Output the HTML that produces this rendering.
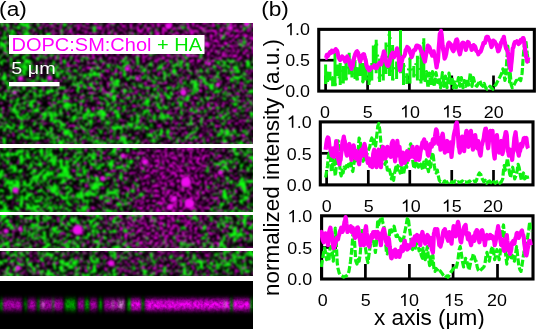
<!DOCTYPE html>
<html><head><meta charset="utf-8">
<style>
html,body{margin:0;padding:0;background:#fff;}
body{width:536px;height:329px;position:relative;overflow:hidden;font-family:"Liberation Sans",sans-serif;}
.abs{position:absolute;}
</style></head><body>
<svg class="abs" style="left:0;top:0;will-change:transform" width="536" height="329" viewBox="0 0 536 329" font-family="Liberation Sans, sans-serif">
  <!-- microscopy placeholder -->
  <defs>
<filter id="mf" filterUnits="userSpaceOnUse" x="-6" y="17" width="265" height="265" color-interpolation-filters="sRGB">
  <feGaussianBlur in="SourceGraphic" stdDeviation="3" result="D"/>
  <feTurbulence type="fractalNoise" baseFrequency="0.3" numOctaves="2" seed="4" result="N1"/>
  <feColorMatrix in="N1" type="matrix" values="0 0 0 0 0  1 0 0 0 0  0 0 0 0 0  0 0 0 0 1" result="N1g"/>
  <feTurbulence type="fractalNoise" baseFrequency="0.1" numOctaves="2" seed="21" result="N3"/>
  <feColorMatrix in="N3" type="matrix" values="0 0 0 0 0  1 0 0 0 0  0 0 0 0 0  0 0 0 0 1" result="N3g"/>
  <feComposite in="N1g" in2="N3g" operator="arithmetic" k1="0" k2="0.7" k3="0.45" k4="-0.075" result="N13"/>
  <feComposite in="N13" in2="D" operator="arithmetic" k1="0" k2="1" k3="0.5" k4="-0.25" result="S1"/>
  <feColorMatrix in="S1" type="matrix" values="0 0 0 0 0.06  0 0 0 0 1.0  0 0 0 0 0.06  0 7 0 0 -3.0" result="G"/>
  <feTurbulence type="fractalNoise" baseFrequency="0.4" numOctaves="2" seed="11" result="N2"/>
  <feColorMatrix in="N2" type="matrix" values="1 0 0 0 0  0 0 0 0 0  0 0 0 0 0  0 0 0 0 1" result="N2r"/>
  <feComposite in="N2r" in2="D" operator="arithmetic" k1="0" k2="1" k3="0.5" k4="-0.25" result="S2"/>
  <feColorMatrix in="S2" type="matrix" values="8 0 0 0 -3.5  0 0 0 0 0  0 0 0 0 0  0 0 0 0 1" result="M1"/>
  <feColorMatrix in="M1" type="matrix" values="1.0 0 0 0 0  0 0 0 0 0  0.95 0 0 0 0  0 0 0 0 1" result="M"/>
  <feComposite in="G" in2="M" operator="over" result="C"/>
  <feGaussianBlur in="C" stdDeviation="1.0"/>
</filter>
<filter id="bb" x="-50%" y="-50%" width="200%" height="200%"><feGaussianBlur stdDeviation="0.8"/></filter><filter id="bs" filterUnits="userSpaceOnUse" x="-10" y="281" width="273" height="48" color-interpolation-filters="sRGB">
<feGaussianBlur in="SourceGraphic" stdDeviation="1.3 2.6" result="b"/>
<feTurbulence type="fractalNoise" baseFrequency="0.35" numOctaves="2" seed="3" result="n"/>
<feColorMatrix in="n" type="matrix" values="0 0 0 0 0  0 0 0 0 0  0 0 0 0 0  0.8 0 0 0 0.45" result="na"/>
<feComposite in="b" in2="na" operator="in"/>
</filter><clipPath id="mclip"><rect x="0" y="23" width="253" height="253"/></clipPath><clipPath id="bclip"><rect x="0" y="281" width="253" height="48"/></clipPath><linearGradient id="bg0" gradientUnits="userSpaceOnUse" x1="0" x2="253" y1="0" y2="0"><stop offset="0.000" stop-color="rgb(52,98,0)"/><stop offset="0.126" stop-color="rgb(67,90,0)"/><stop offset="0.253" stop-color="rgb(94,58,0)"/><stop offset="0.379" stop-color="rgb(101,49,0)"/><stop offset="0.506" stop-color="rgb(101,49,0)"/><stop offset="0.632" stop-color="rgb(104,43,0)"/><stop offset="0.759" stop-color="rgb(104,43,0)"/><stop offset="0.885" stop-color="rgb(104,49,0)"/><stop offset="1.000" stop-color="rgb(104,58,0)"/></linearGradient><linearGradient id="bg1" gradientUnits="userSpaceOnUse" x1="0" x2="253" y1="0" y2="0"><stop offset="0.000" stop-color="rgb(52,100,0)"/><stop offset="0.126" stop-color="rgb(52,100,0)"/><stop offset="0.253" stop-color="rgb(71,93,0)"/><stop offset="0.379" stop-color="rgb(82,86,0)"/><stop offset="0.506" stop-color="rgb(77,90,0)"/><stop offset="0.632" stop-color="rgb(77,95,0)"/><stop offset="0.759" stop-color="rgb(85,90,0)"/><stop offset="0.885" stop-color="rgb(77,90,0)"/><stop offset="1.000" stop-color="rgb(77,90,0)"/></linearGradient><linearGradient id="bg2" gradientUnits="userSpaceOnUse" x1="0" x2="253" y1="0" y2="0"><stop offset="0.000" stop-color="rgb(57,96,0)"/><stop offset="0.126" stop-color="rgb(57,100,0)"/><stop offset="0.253" stop-color="rgb(62,103,0)"/><stop offset="0.379" stop-color="rgb(67,100,0)"/><stop offset="0.506" stop-color="rgb(67,98,0)"/><stop offset="0.632" stop-color="rgb(71,96,0)"/><stop offset="0.759" stop-color="rgb(89,74,0)"/><stop offset="0.885" stop-color="rgb(77,82,0)"/><stop offset="1.000" stop-color="rgb(77,82,0)"/></linearGradient><linearGradient id="bg3" gradientUnits="userSpaceOnUse" x1="0" x2="253" y1="0" y2="0"><stop offset="0.000" stop-color="rgb(40,109,0)"/><stop offset="0.126" stop-color="rgb(40,112,0)"/><stop offset="0.253" stop-color="rgb(52,112,0)"/><stop offset="0.379" stop-color="rgb(67,106,0)"/><stop offset="0.506" stop-color="rgb(78,86,0)"/><stop offset="0.632" stop-color="rgb(108,5,0)"/><stop offset="0.759" stop-color="rgb(108,0,0)"/><stop offset="0.885" stop-color="rgb(77,90,0)"/><stop offset="1.000" stop-color="rgb(52,103,0)"/></linearGradient><linearGradient id="bg4" gradientUnits="userSpaceOnUse" x1="0" x2="253" y1="0" y2="0"><stop offset="0.000" stop-color="rgb(67,100,0)"/><stop offset="0.126" stop-color="rgb(62,103,0)"/><stop offset="0.253" stop-color="rgb(62,100,0)"/><stop offset="0.379" stop-color="rgb(75,93,0)"/><stop offset="0.506" stop-color="rgb(101,78,0)"/><stop offset="0.632" stop-color="rgb(108,49,0)"/><stop offset="0.759" stop-color="rgb(101,58,0)"/><stop offset="0.885" stop-color="rgb(77,95,0)"/><stop offset="1.000" stop-color="rgb(67,100,0)"/></linearGradient><linearGradient id="bg5" gradientUnits="userSpaceOnUse" x1="0" x2="253" y1="0" y2="0"><stop offset="0.000" stop-color="rgb(78,90,0)"/><stop offset="0.126" stop-color="rgb(75,96,0)"/><stop offset="0.253" stop-color="rgb(67,100,0)"/><stop offset="0.379" stop-color="rgb(71,96,0)"/><stop offset="0.506" stop-color="rgb(85,78,0)"/><stop offset="0.632" stop-color="rgb(85,74,0)"/><stop offset="0.759" stop-color="rgb(75,93,0)"/><stop offset="0.885" stop-color="rgb(67,100,0)"/><stop offset="1.000" stop-color="rgb(67,100,0)"/></linearGradient></defs><g id="micro">
    <rect x="0" y="281" width="253" height="48" fill="#000"/>
    <g clip-path="url(#mclip)"><rect x="0" y="23" width="253" height="253" fill="#000"/><g filter="url(#mf)"><rect x="-6" y="17" width="265" height="43" fill="url(#bg0)"/><rect x="-6" y="60" width="265" height="40" fill="url(#bg1)"/><rect x="-6" y="100" width="265" height="46" fill="url(#bg2)"/><rect x="-6" y="146" width="265" height="67" fill="url(#bg3)"/><rect x="-6" y="213" width="265" height="36" fill="url(#bg4)"/><rect x="-6" y="249" width="265" height="33" fill="url(#bg5)"/></g><g filter="url(#bb)" fill="#f010f0"><circle cx="168.4" cy="26" r="3"/><circle cx="230.4" cy="28" r="2.5"/><circle cx="246.5" cy="24" r="2.5"/><circle cx="206.8" cy="44" r="2.5"/><circle cx="188" cy="55" r="2"/><circle cx="20.6" cy="78.5" r="2.5"/><circle cx="49.7" cy="78" r="2.5"/><circle cx="14.6" cy="92.6" r="2"/><circle cx="127.4" cy="68.7" r="2.5"/><circle cx="137.4" cy="78.6" r="2"/><circle cx="183.3" cy="92.3" r="3"/><circle cx="209.3" cy="63.7" r="2"/><circle cx="218" cy="84.8" r="2"/><circle cx="186" cy="182" r="5"/><circle cx="189.4" cy="203.5" r="5"/><circle cx="170" cy="207" r="3"/><circle cx="145" cy="162" r="3"/><circle cx="174" cy="199" r="3"/><circle cx="220.5" cy="172.4" r="2.5"/><circle cx="15.5" cy="190.3" r="3"/><circle cx="102.6" cy="178.4" r="2.5"/><circle cx="122.9" cy="155.7" r="2.5"/><circle cx="77.6" cy="230" r="5"/><circle cx="6" cy="231" r="2.5"/><circle cx="20" cy="229" r="2"/><circle cx="111" cy="263.3" r="3"/><circle cx="17.9" cy="268" r="2.5"/></g></g><g clip-path="url(#bclip)"><g filter="url(#bs)"><rect x="3" y="299.5" width="19" height="10.5" fill="#b800b8"/><rect x="28" y="299.5" width="8" height="10.5" fill="#b800b8"/><rect x="40" y="299.5" width="6" height="10.5" fill="#b800b8"/><rect x="46" y="299.5" width="10" height="10.5" fill="#b800b8"/><rect x="56" y="299.5" width="7" height="10.5" fill="#b800b8"/><rect x="78" y="299.5" width="6" height="10.5" fill="#b800b8"/><rect x="90" y="299.5" width="7" height="10.5" fill="#b800b8"/><rect x="104" y="299.5" width="21" height="10.5" fill="#b800b8"/><rect x="131" y="299.5" width="10" height="10.5" fill="#ff00ff"/><rect x="145" y="299.5" width="85" height="10.5" fill="#ff00ff"/><rect x="233" y="299.5" width="17" height="10.5" fill="#ff00ff"/><rect x="0" y="299.5" width="2.5" height="10.5" fill="#00b400"/><rect x="24.5" y="299.5" width="2.0" height="10.5" fill="#00b400"/><rect x="37.5" y="299.5" width="2.0" height="10.5" fill="#00b400"/><rect x="52.5" y="299.5" width="1.5" height="10.5" fill="#00b400"/><rect x="65" y="299.5" width="11" height="10.5" fill="#00b400"/><rect x="85" y="299.5" width="4" height="10.5" fill="#00b400"/><rect x="99" y="299.5" width="3" height="10.5" fill="#00b400"/><rect x="127.5" y="299.5" width="3.0" height="10.5" fill="#00e000"/><rect x="142" y="299.5" width="1.5" height="10.5" fill="#00e000"/><rect x="230.5" y="299.5" width="2.0" height="10.5" fill="#00e000"/><rect x="250.5" y="299.5" width="2.0" height="10.5" fill="#00e000"/><rect x="42" y="301.5" width="2" height="6" fill="#d8a0d8"/><rect x="112" y="301.5" width="2" height="6" fill="#d8a0d8"/><rect x="118" y="301.5" width="6" height="6" fill="#d8a0d8"/><rect x="224" y="301.5" width="2" height="6" fill="#d8a0d8"/></g></g>
  </g>

  <!-- white separator lines -->
  <rect x="0" y="144" width="253" height="4" fill="#fff"/>
  <rect x="0" y="212" width="253" height="3" fill="#fff"/>
  <rect x="0" y="248" width="253" height="3" fill="#fff"/>

  <!-- label box -->
  <rect x="9" y="35" width="195.5" height="19" fill="#fff"/>
  <!-- scale bar -->
  <rect x="9" y="82" width="50.5" height="4.3" fill="#fff"/>

  <text transform="translate(-0.9 16) scale(1.08 1)" font-size="21" text-anchor="start" fill="#000">(a)</text>
<text transform="translate(261.2 16) scale(1.08 1)" font-size="21" text-anchor="start" fill="#000">(b)</text>
<text transform="translate(11.5 51.3) scale(1.13 1)" font-size="17.7" text-anchor="start" fill="#000"><tspan fill="#ff00ff">DOPC:SM:Chol</tspan><tspan fill="#00e600"> + HA</tspan></text>
<text transform="translate(11.3 74.4) scale(1.2 1)" font-size="16.5" text-anchor="start" fill="#fff">5 μm</text>
<text transform="translate(278.7 296.0) rotate(-90) scale(1.04 1)" font-size="21.6" text-anchor="start" fill="#000">normalized intensity (a.u.)</text>
<text transform="translate(374 324.7) scale(1.046 1)" font-size="21.6" text-anchor="start" fill="#000">x axis (μm)</text>
<path transform="translate(285.13 35.3) scale(0.00873 -0.00840)" d="M763 0L583 0L583 1147Q520 1087 417 1027Q315 967 223 933L223 1107Q368 1175 477 1271Q586 1367 631 1466L763 1466Z"/><text transform="translate(295.08 35.3) scale(1.04 1)" font-size="17.2" text-anchor="start" fill="#000">.0</text>
<text transform="translate(285.13 66.2) scale(1.04 1)" font-size="17.2" text-anchor="start" fill="#000">0.5</text>
<text transform="translate(285.13 97.1) scale(1.04 1)" font-size="17.2" text-anchor="start" fill="#000">0.0</text>
<path transform="translate(286.73 127.8) scale(0.00873 -0.00840)" d="M763 0L583 0L583 1147Q520 1087 417 1027Q315 967 223 933L223 1107Q368 1175 477 1271Q586 1367 631 1466L763 1466Z"/><text transform="translate(296.68 127.8) scale(1.04 1)" font-size="17.2" text-anchor="start" fill="#000">.0</text>
<text transform="translate(286.73 159.5) scale(1.04 1)" font-size="17.2" text-anchor="start" fill="#000">0.5</text>
<text transform="translate(286.73 191.2) scale(1.04 1)" font-size="17.2" text-anchor="start" fill="#000">0.0</text>
<path transform="translate(287.33 222.2) scale(0.00873 -0.00840)" d="M763 0L583 0L583 1147Q520 1087 417 1027Q315 967 223 933L223 1107Q368 1175 477 1271Q586 1367 631 1466L763 1466Z"/><text transform="translate(297.28 222.2) scale(1.04 1)" font-size="17.2" text-anchor="start" fill="#000">.0</text>
<text transform="translate(287.33 253.7) scale(1.04 1)" font-size="17.2" text-anchor="start" fill="#000">0.5</text>
<text transform="translate(287.33 285.2) scale(1.04 1)" font-size="17.2" text-anchor="start" fill="#000">0.0</text>
<text transform="translate(320.03 117.6) scale(1.04 1)" font-size="17.2" text-anchor="start" fill="#000">0</text>
<text transform="translate(362.83 117.6) scale(1.04 1)" font-size="17.2" text-anchor="start" fill="#000">5</text>
<path transform="translate(400.05 117.6) scale(0.00873 -0.00840)" d="M763 0L583 0L583 1147Q520 1087 417 1027Q315 967 223 933L223 1107Q368 1175 477 1271Q586 1367 631 1466L763 1466Z"/><text transform="translate(410.0 117.6) scale(1.04 1)" font-size="17.2" text-anchor="start" fill="#000">0</text>
<path transform="translate(442.05 117.6) scale(0.00873 -0.00840)" d="M763 0L583 0L583 1147Q520 1087 417 1027Q315 967 223 933L223 1107Q368 1175 477 1271Q586 1367 631 1466L763 1466Z"/><text transform="translate(452.0 117.6) scale(1.04 1)" font-size="17.2" text-anchor="start" fill="#000">5</text>
<text transform="translate(483.85 117.6) scale(1.04 1)" font-size="17.2" text-anchor="start" fill="#000">20</text>
<text transform="translate(321.83 211.8) scale(1.04 1)" font-size="17.2" text-anchor="start" fill="#000">0</text>
<text transform="translate(363.73 211.8) scale(1.04 1)" font-size="17.2" text-anchor="start" fill="#000">5</text>
<path transform="translate(400.85 211.8) scale(0.00873 -0.00840)" d="M763 0L583 0L583 1147Q520 1087 417 1027Q315 967 223 933L223 1107Q368 1175 477 1271Q586 1367 631 1466L763 1466Z"/><text transform="translate(410.8 211.8) scale(1.04 1)" font-size="17.2" text-anchor="start" fill="#000">0</text>
<path transform="translate(441.85 211.8) scale(0.00873 -0.00840)" d="M763 0L583 0L583 1147Q520 1087 417 1027Q315 967 223 933L223 1107Q368 1175 477 1271Q586 1367 631 1466L763 1466Z"/><text transform="translate(451.8 211.8) scale(1.04 1)" font-size="17.2" text-anchor="start" fill="#000">5</text>
<text transform="translate(483.05 211.8) scale(1.04 1)" font-size="17.2" text-anchor="start" fill="#000">20</text>
<text transform="translate(317.73 306.0) scale(1.04 1)" font-size="17.2" text-anchor="start" fill="#000">0</text>
<text transform="translate(360.83 306.0) scale(1.04 1)" font-size="17.2" text-anchor="start" fill="#000">5</text>
<path transform="translate(399.05 306.0) scale(0.00873 -0.00840)" d="M763 0L583 0L583 1147Q520 1087 417 1027Q315 967 223 933L223 1107Q368 1175 477 1271Q586 1367 631 1466L763 1466Z"/><text transform="translate(409.0 306.0) scale(1.04 1)" font-size="17.2" text-anchor="start" fill="#000">0</text>
<path transform="translate(443.85 306.0) scale(0.00873 -0.00840)" d="M763 0L583 0L583 1147Q520 1087 417 1027Q315 967 223 933L223 1107Q368 1175 477 1271Q586 1367 631 1466L763 1466Z"/><text transform="translate(453.8 306.0) scale(1.04 1)" font-size="17.2" text-anchor="start" fill="#000">5</text>
<text transform="translate(487.05 306.0) scale(1.04 1)" font-size="17.2" text-anchor="start" fill="#000">20</text>
  <!-- ticks -->
  <g stroke="#000" stroke-width="2.7">
    <path d="M320 60.2h14"/>
    <path d="M325.6 90v-14.5M367.6 90v-14.5M409.4 90v-14.5M451.75 90v-14.5M493.5 90v-14.5"/>
    <path d="M321.5 153.3h14"/>
    <path d="M326.6 184v-14M368.3 184v-14M409.8 184v-14M451.75 184v-14M493.5 184v-14"/>
    <path d="M323 247.5h14"/>
    <path d="M321.4 278v-14M365.4 278v-14M409.4 278v-14M453.1 278v-14M497.5 278v-14"/>
  </g>
  <!-- boxes -->
  <g fill="none" stroke="#000" stroke-width="3.1">
    <rect x="318.75" y="29.35" width="215.6" height="61.75"/>
    <rect x="320.3" y="121.9" width="212.7" height="63"/>
    <rect x="321.6" y="215.8" width="211.4" height="63.2"/>
  </g>
  <!-- data placeholders -->
  <clipPath id="k1"><rect x="317.2" y="27.8" width="218.7" height="64.9"/></clipPath>
<clipPath id="k2"><rect x="318.7" y="120.3" width="215.9" height="66.2"/></clipPath>
<clipPath id="k3"><rect x="320" y="214.2" width="214.6" height="66.4"/></clipPath><g clip-path="url(#k1)" fill="none" stroke-linejoin="round"><path d="M325.6 64.4V84M327.6 73V82M330 71.7V80.5M332.6 77.6V86.3M335 52.8V86.3M337.7 64.4V76M340.2 63V85M343.3 65.9V83.4M346 57.1V80.5M349.2 52.8V74.6M351.9 63V77.6M355 60V79M357.2 67.3V80.5M360 54.2V76.1M362.9 63V81.9M365.8 58.6V80.5M369 68.8V84.9M371.8 63V80.5M373.3 45.5V67.3M376.2 39.7V73.2M379.6 58.6V81.9M383.3 61.5V80.5M386 42.6V74M389.5 31V76M392.6 45V80.5M396.6 61.5V79M400.5 30V73.2M403.5 63V84.9M406.8 73.2V84.1M410 58.6V83.4M413.8 65.9V77.6M417.4 55.7V80.5M421 50V83.4M423.8 38.2V80.5" stroke="#10f010" stroke-width="3.0"/><polyline points="325.6,84.0 327.6,73.0 330.0,80.5 332.6,77.6 335.0,86.3 337.7,64.4 340.2,85.0 343.3,65.9 346.0,80.5 349.2,52.8 351.9,77.6 355.0,60.0 357.2,80.5 360.0,54.2 362.9,81.9 365.8,58.6 369.0,84.9 371.8,63.0 373.3,67.3 376.2,39.7 379.6,81.9 383.3,61.5 386.0,74.0 389.5,31.0 392.6,80.5 396.6,61.5 400.5,73.2 403.5,63.0 406.8,84.1 410.0,58.6 413.8,77.6 417.4,55.7 421.0,83.4 423.8,38.2" stroke="#10f010" stroke-width="3.2" stroke-dasharray="2 9"/><polyline points="425.0,82.0 425.8,76.8 426.5,71.7 427.2,79.8 428.0,87.8 428.8,80.5 429.5,73.2 430.2,79.1 431.0,84.9 431.8,78.3 432.5,71.7 433.4,79.0 434.3,86.3 435.1,79.5 436.0,72.7 436.9,77.6 437.7,82.5 438.4,80.0 439.0,77.6 439.8,82.7 440.6,87.8 441.5,80.2 442.4,72.7 443.2,79.5 444.0,86.3 444.8,81.2 445.5,76.1 446.2,81.9 447.0,87.8 448.0,80.5 449.0,73.2 449.8,78.3 450.5,83.4 451.2,80.5 452.0,77.6 452.7,82.7 453.4,87.8 454.2,84.9 455.0,82.0 455.6,84.9 456.3,87.8 457.4,82.7 458.5,77.6 459.2,81.9 460.0,86.3 460.7,81.9 461.4,77.6 462.2,82.7 463.0,87.8 463.8,84.2 464.5,80.5 465.2,83.4 466.0,86.3 466.6,82.7 467.2,79.0 467.9,82.0 468.7,85.0 469.5,79.1 470.3,73.2 471.1,79.8 472.0,86.3 472.7,81.9 473.4,77.6 474.2,81.2 475.0,84.8 475.9,85.5 476.9,86.3 477.6,84.8 478.4,83.4 479.1,82.0 479.8,80.5 480.6,82.7 481.3,84.8 482.1,85.5 482.8,86.3 483.5,84.8 484.2,83.4 484.9,85.6 485.7,87.8 486.4,88.5 487.1,89.2 487.9,88.5 488.6,87.8 489.3,87.0 490.0,86.3 490.8,87.0 491.5,87.8 492.2,88.5 493.0,89.2 493.7,87.8 494.4,86.3 495.1,85.5 495.9,84.8 496.6,83.3 497.3,81.9 498.1,80.5 498.8,79.0 499.6,77.5 500.3,76.1 501.0,74.7 501.7,73.2 502.3,71.0 502.9,68.8 503.4,71.0 503.9,73.2 504.4,76.8 504.9,80.5 505.4,78.3 505.8,76.1 506.3,68.0 506.8,60.0 507.3,53.0 507.8,46.0 508.3,54.0 508.8,62.0 509.1,72.0 509.5,81.9 509.9,77.6 510.2,73.2 510.7,79.0 511.2,84.8 511.7,86.3 512.2,87.8 512.8,87.0 513.4,86.3 514.1,84.8 514.8,83.4 515.5,82.0 516.3,80.5 517.0,81.2 517.8,81.9 518.5,80.5 519.2,79.0 520.0,79.8 520.7,80.5 521.4,76.8 522.1,73.2 522.5,67.3 522.9,61.5 523.2,57.1 523.6,52.8 524.2,47.4 524.8,42.0 525.3,41.0 525.8,40.0 526.3,44.9 526.8,49.8 527.2,53.5 527.7,57.1 528.0,60.0 528.3,63.0" stroke="#10f010" stroke-width="3.2" stroke-dasharray="7 2.2"/><polyline points="325.3,57.9 326.1,57.9 326.8,54.9 327.9,56.0 328.9,54.2 330.0,52.1 331.1,52.8 331.9,50.7 332.6,51.3 333.3,52.0 334.0,50.6 334.9,50.6 335.8,49.1 336.4,50.4 337.0,50.6 337.6,52.5 338.1,55.7 338.6,57.5 339.2,58.6 339.7,59.6 340.2,60.0 340.8,59.2 341.3,57.9 342.1,56.4 342.8,57.1 343.4,57.6 344.0,58.6 344.5,59.7 345.0,61.5 345.5,61.1 346.0,59.3 346.6,59.4 347.2,56.4 347.8,58.9 348.3,58.6 348.9,60.5 349.4,62.2 349.9,63.9 350.4,65.9 351.0,66.6 351.6,68.8 352.1,65.9 352.7,65.9 353.2,61.4 353.7,60.0 354.2,57.7 354.8,55.7 355.4,53.7 355.9,52.8 356.5,51.7 357.1,51.3 357.6,53.3 358.1,52.8 358.6,55.0 359.1,57.1 359.7,59.5 360.3,61.5 360.9,59.2 361.5,58.6 362.0,55.6 362.5,55.7 363.0,54.4 363.5,54.2 364.1,54.5 364.7,57.1 365.3,59.3 365.9,61.5 366.4,65.3 366.9,65.9 367.4,67.9 367.9,68.8 368.5,68.5 369.1,70.3 369.8,70.1 370.5,67.3 371.4,68.3 372.2,67.4 373.3,67.1 374.4,65.2 375.5,68.0 376.6,68.1 377.3,67.1 378.0,64.5 378.8,64.7 379.5,63.0 380.2,63.3 380.9,64.5 381.6,62.4 382.4,57.2 383.1,55.7 383.9,51.3 384.6,53.2 385.3,57.2 386.1,61.7 386.8,64.5 387.5,65.9 388.2,65.9 388.9,63.6 389.7,61.6 390.4,58.7 391.2,55.7 391.9,54.2 392.6,52.8 393.4,56.4 394.1,57.2 394.8,55.0 395.5,52.8 396.2,51.7 397.0,48.4 397.8,51.6 398.5,55.7 399.2,64.2 399.9,70.3 400.6,67.9 401.4,63.0 402.1,60.0 402.8,57.2 403.6,56.7 404.3,55.7 405.0,54.1 405.7,49.9 406.4,49.2 407.2,47.0 407.9,47.7 408.7,48.4 409.4,49.7 410.1,52.8 410.9,54.4 411.6,57.2 412.3,55.6 413.0,52.8 413.8,50.3 414.5,49.9 415.2,49.8 416.0,47.0 416.7,45.5 417.4,45.5 418.1,47.2 418.9,46.2 419.6,46.7 420.3,48.4 421.1,51.3 421.8,51.3 422.6,54.9 423.5,57.2 424.2,59.4 424.9,61.6 425.6,57.3 426.4,52.8 427.1,49.6 427.8,45.5 428.6,46.5 429.3,47.0 430.1,49.3 430.8,52.8 431.5,53.3 432.2,55.7 432.9,53.5 433.7,51.3 434.4,55.6 435.1,57.2 435.9,62.7 436.6,67.4 437.2,63.1 437.8,61.6 438.3,55.3 438.8,47.0 439.3,41.1 439.8,33.8 440.4,33.7 441.0,30.9 441.6,34.3 442.1,39.7 442.6,45.6 443.2,49.9 443.9,52.8 444.6,58.6 445.4,56.9 446.1,54.3 446.8,49.9 447.5,47.0 448.2,43.9 449.0,42.6 449.7,44.5 450.4,44.0 451.1,44.9 451.9,48.4 452.6,49.9 453.4,51.3 454.1,49.5 454.8,45.5 455.6,41.8 456.3,39.7 456.9,39.5 457.5,41.1 458.0,46.7 458.5,49.9 459.2,51.9 459.9,54.3 460.6,51.3 461.4,47.0 462.1,43.3 462.9,42.6 463.6,42.9 464.3,44.0 465.1,45.9 465.8,49.9 466.5,47.5 467.2,44.0 467.9,42.0 468.7,42.6 469.4,45.5 470.1,45.5 470.9,46.2 471.6,49.9 472.4,49.2 473.1,47.0 473.6,45.1 474.0,46.2 474.8,46.2 475.5,47.7 476.2,50.5 476.9,51.3 477.6,51.7 478.4,54.3 479.1,52.2 479.8,52.1 480.6,51.6 481.3,49.9 482.1,47.3 482.8,45.5 483.5,42.9 484.2,43.3 484.9,43.1 485.7,39.7 486.4,37.1 487.1,36.8 487.9,36.8 488.6,39.7 489.3,39.9 490.0,41.1 490.8,44.4 491.5,47.0 492.1,45.6 492.7,42.6 493.4,40.6 494.1,41.1 494.9,42.0 495.6,44.0 496.3,44.0 497.0,47.0 497.6,49.0 498.1,51.3 498.8,50.7 499.5,48.4 500.2,46.3 501.0,42.6 501.7,42.4 502.4,39.7 503.1,39.1 503.9,36.8 504.4,40.9 504.9,42.6 505.5,46.2 506.1,48.4 506.9,49.8 507.6,51.3 508.1,53.4 508.7,57.2 509.2,62.1 509.7,65.9 510.2,67.5 510.8,70.3 511.2,64.7 511.6,61.6 512.2,54.8 512.7,48.4 513.4,47.4 514.1,44.0 514.9,42.1 515.6,42.6 516.3,42.1 517.0,41.1 517.8,42.2 518.5,44.0 519.2,43.3 520.0,42.6 520.7,40.0 521.4,39.7 522.1,40.4 522.9,38.2 523.4,38.2 523.9,39.7 524.5,45.1 525.1,49.9 525.7,53.3 526.2,57.2 526.7,57.9 527.2,61.6 527.8,59.6 528.3,57.2" stroke="#ff00f0" stroke-width="4.2"/></g><g clip-path="url(#k2)" fill="none" stroke-linejoin="round"><polyline points="325.6,177.4 326.1,174.5 326.6,171.6 327.1,168.6 327.5,165.7 328.0,160.6 328.5,155.5 329.0,154.1 329.5,152.6 329.9,155.5 330.4,158.4 330.9,165.0 331.4,171.6 331.9,169.4 332.4,167.2 332.9,161.3 333.3,155.5 333.8,161.3 334.3,167.2 334.8,171.6 335.3,175.9 335.8,171.6 336.2,167.2 336.7,155.5 337.2,143.8 337.8,142.4 338.3,140.9 338.7,148.2 339.1,155.5 339.6,163.6 340.2,171.6 340.7,173.8 341.2,175.9 341.6,173.0 342.1,170.1 342.6,171.6 343.1,173.0 343.6,170.1 344.1,167.2 344.7,167.9 345.3,168.6 345.9,167.1 346.4,165.7 346.9,167.1 347.5,168.6 348.0,166.4 348.5,164.3 349.1,165.8 349.6,167.2 350.2,165.0 350.8,162.8 351.3,165.7 351.8,168.6 352.3,170.1 352.8,171.6 353.4,167.2 354.0,162.8 354.6,159.2 355.2,155.5 355.7,156.9 356.2,158.4 356.7,160.6 357.2,162.8 357.6,157.7 358.1,152.6 358.6,145.3 359.1,138.0 359.6,139.4 360.1,140.9 360.6,145.3 361.0,149.7 361.5,154.1 362.0,158.4 362.6,159.9 363.1,161.3 363.6,159.9 364.2,158.4 364.8,159.9 365.4,161.3 365.9,158.4 366.4,155.5 366.9,154.1 367.4,152.6 368.0,151.1 368.6,149.7 369.2,148.2 369.8,146.8 370.3,143.9 370.8,140.9 371.3,139.4 371.8,138.0 372.5,140.9 373.2,143.8 373.8,141.9 374.4,140.0 375.0,143.0 375.6,146.0 376.2,140.5 376.8,135.0 377.3,130.5 377.8,126.0 378.3,124.8 378.8,123.5 379.3,126.8 379.8,130.0 380.3,136.0 380.8,142.0 381.3,146.0 381.8,150.0 382.6,154.9 383.4,159.9 384.1,162.1 384.9,164.3 385.6,162.8 386.3,161.3 386.8,165.7 387.3,170.1 387.9,168.6 388.5,167.2 389.2,169.4 390.0,171.6 390.7,175.2 391.4,178.9 392.0,176.7 392.6,174.5 393.1,177.4 393.6,180.3 394.1,176.7 394.6,173.0 395.2,170.1 395.8,167.2 396.4,168.6 397.0,170.1 397.5,167.9 398.0,165.7 398.5,167.1 399.0,168.6 399.6,170.8 400.2,173.0 400.8,170.1 401.3,167.2 401.9,169.4 402.4,171.6 402.9,173.1 403.4,174.5 404.0,171.6 404.6,168.6 405.1,165.7 405.7,162.8 406.2,165.0 406.7,167.2 407.2,162.8 407.8,158.4 408.2,154.8 408.6,151.1 409.1,148.9 409.7,146.8 410.2,145.3 410.7,143.8 411.3,147.4 411.9,151.1 412.4,156.9 413.0,162.8 413.5,165.7 414.0,168.6 414.6,167.1 415.1,165.7 415.6,163.5 416.2,161.3 416.8,162.8 417.4,164.3 417.9,165.8 418.4,167.2 418.9,165.0 419.4,162.8 420.0,163.6 420.6,164.3 421.2,165.8 421.8,167.2 422.3,168.6 422.8,170.1 423.3,166.1 423.8,162.0 424.0,162.4 424.2,162.8 424.7,165.0 425.2,167.2 425.7,163.6 426.2,159.9 426.8,163.6 427.4,167.2 427.9,169.4 428.5,171.6 429.1,166.4 429.6,161.3 430.1,164.2 430.6,167.2 431.2,161.3 431.8,155.5 432.4,154.1 432.9,152.6 433.4,156.9 433.9,161.3 434.4,165.7 435.0,170.1 435.6,171.6 436.1,173.0 436.7,171.6 437.3,170.1 437.8,173.0 438.3,175.9 438.8,178.1 439.3,180.3 439.9,181.1 440.5,181.8 441.2,181.4 442.0,181.0 442.7,181.4 443.4,181.8 444.1,181.4 444.9,181.0 445.6,181.8 446.3,182.5 447.1,182.2 447.8,181.8 448.6,181.4 449.3,181.0 450.0,181.8 450.7,182.5 451.4,182.2 452.2,181.8 452.9,182.2 453.6,182.5 454.4,181.8 455.1,181.0 455.9,181.8 456.6,182.5 457.3,182.2 458.0,181.8 458.8,182.2 459.5,182.5 460.2,182.2 460.9,181.8 461.6,181.4 462.4,181.0 463.1,181.8 463.9,182.5 464.6,182.2 465.3,181.8 466.1,182.2 466.8,182.5 467.5,182.2 468.2,181.8 468.9,181.4 469.7,181.0 470.4,181.8 471.1,182.5 471.9,182.2 472.6,181.8 473.4,181.4 474.1,181.0 474.8,181.4 475.5,181.8 476.0,181.1 476.5,180.3 477.2,178.1 477.9,175.9 478.6,174.4 479.4,173.0 480.1,173.8 480.8,174.5 481.6,176.7 482.3,178.9 483.1,180.4 483.8,181.8 484.5,181.1 485.2,180.3 485.9,181.8 486.7,183.2 487.4,182.5 488.1,181.8 488.9,181.4 489.6,181.0 490.4,181.8 491.1,182.5 491.8,181.4 492.5,180.3 493.2,181.1 494.0,181.8 494.7,182.5 495.4,183.2 496.1,182.5 496.9,181.8 497.6,181.4 498.4,181.0 499.1,182.1 499.8,183.2 500.6,182.5 501.3,181.8 502.0,180.4 502.7,178.9 503.1,174.5 503.5,170.1 503.9,167.9 504.2,165.7 504.8,167.9 505.4,170.1 505.9,167.2 506.4,164.3 506.9,161.4 507.4,158.4 507.9,161.4 508.3,164.3 508.8,167.9 509.3,171.6 509.8,174.5 510.3,177.4 510.9,175.2 511.5,173.0 512.1,170.1 512.7,167.2 513.2,170.1 513.7,173.0 514.2,175.9 514.7,178.9 515.3,177.4 515.9,175.9 516.5,173.8 517.0,171.6 517.5,167.9 518.1,164.3 518.6,165.8 519.1,167.2 519.7,170.8 520.2,174.5 520.8,177.4 521.4,180.3 521.9,178.9 522.4,177.4 523.0,175.2 523.5,173.0 524.0,175.9 524.6,178.9 525.2,178.2 525.8,177.4 526.3,175.9 526.8,174.5 527.3,176.7 527.8,178.9" stroke="#10f010" stroke-width="3.2" stroke-dasharray="7 2.2"/><polyline points="325.6,149.7 326.3,143.8 327.0,139.5 327.8,137.5 328.5,138.0 329.0,142.1 329.5,146.8 330.1,147.9 330.7,151.2 331.2,152.0 331.8,155.6 332.4,151.6 332.9,148.3 333.4,154.0 333.9,157.0 334.4,155.1 335.0,151.2 335.6,146.9 336.2,141.0 336.7,145.2 337.2,151.2 337.8,155.7 338.3,159.9 338.9,161.4 339.4,164.3 340.0,161.1 340.6,159.9 341.1,154.3 341.6,151.2 342.1,145.2 342.6,141.0 343.2,140.2 343.8,136.6 344.3,139.9 344.8,141.0 345.4,147.1 346.0,151.2 346.5,154.4 347.0,155.6 347.6,151.0 348.2,148.3 348.8,145.5 349.3,143.9 349.9,148.0 350.4,151.2 350.9,156.3 351.4,159.9 352.0,156.7 352.6,151.2 353.1,149.5 353.6,145.3 354.1,147.6 354.7,152.6 355.2,155.9 355.8,158.5 356.4,155.4 356.9,151.2 357.5,155.6 358.1,159.9 358.6,161.1 359.1,164.3 359.7,160.6 360.3,157.0 360.8,152.0 361.3,149.7 361.9,154.0 362.5,155.6 363.0,152.4 363.5,146.8 364.0,145.5 364.5,143.9 365.1,146.9 365.7,151.2 366.3,156.2 366.9,158.5 367.4,160.9 367.9,162.9 368.4,161.9 369.0,158.5 369.6,163.3 370.1,165.8 370.8,162.9 371.5,159.9 371.9,163.3 372.2,167.2 372.7,160.9 373.2,154.0 373.7,151.6 374.2,149.7 374.8,153.7 375.4,159.9 375.9,162.9 376.5,167.2 377.1,162.4 377.6,155.5 378.1,151.1 378.6,149.7 379.2,154.8 379.8,162.8 380.4,165.4 380.9,167.2 381.4,161.4 381.9,157.0 382.4,152.0 383.0,146.8 383.6,149.6 384.1,152.6 384.7,155.0 385.3,158.4 385.8,157.1 386.3,152.6 386.8,148.7 387.3,146.8 387.9,150.9 388.5,155.5 389.1,151.6 389.7,149.7 390.2,153.8 390.7,157.0 391.2,149.7 391.7,143.8 392.3,141.9 392.9,140.9 393.5,148.2 394.1,154.0 394.6,157.1 395.1,161.3 395.6,155.7 396.1,149.7 396.7,146.6 397.3,140.9 397.9,146.9 398.4,155.5 398.9,149.7 399.5,146.8 400.0,152.5 400.5,159.9 401.1,162.9 401.6,164.3 402.2,158.8 402.8,152.6 403.3,154.7 403.8,158.4 404.3,160.1 404.8,162.8 405.4,157.4 406.0,154.0 406.6,152.4 407.2,151.1 407.7,154.0 408.2,159.9 408.7,156.9 409.2,152.6 409.8,156.1 410.4,157.0 411.0,155.5 411.6,151.1 412.1,149.7 412.6,146.8 413.1,153.4 413.6,157.0 414.2,153.3 414.8,152.6 415.4,155.6 415.9,159.9 416.4,154.8 417.0,146.8 417.5,151.3 418.0,154.0 418.6,156.7 419.1,159.9 419.7,157.7 420.3,152.6 420.8,150.1 421.3,146.8 421.9,145.6 422.4,142.4 422.7,142.5 423.0,143.9 423.6,140.7 424.2,139.5 424.7,143.7 425.2,148.3 425.7,144.2 426.2,142.4 426.8,146.4 427.4,151.2 427.9,154.9 428.5,155.6 429.1,152.9 429.6,151.2 430.1,146.0 430.6,143.9 431.2,143.9 431.8,146.8 432.4,142.1 432.9,139.5 433.4,142.6 433.9,143.9 434.4,139.8 435.0,136.6 435.6,132.3 436.1,129.3 436.7,130.2 437.3,133.7 437.8,140.3 438.3,143.9 438.8,140.7 439.3,138.0 439.9,142.9 440.5,149.7 441.1,143.2 441.7,139.5 442.2,135.2 442.7,133.7 443.2,137.7 443.7,143.9 444.3,148.8 444.9,152.6 445.5,147.8 446.1,145.3 446.6,141.7 447.1,141.0 447.6,146.1 448.1,151.2 448.7,147.4 449.3,145.3 449.9,145.4 450.4,142.4 450.9,148.5 451.5,157.0 452.0,152.0 452.5,146.8 453.1,142.6 453.6,136.6 454.2,133.4 454.8,130.8 455.3,129.4 455.8,124.9 456.3,123.6 456.8,122.5 457.2,125.8 457.7,130.8 458.2,138.5 458.7,146.8 459.2,148.2 459.8,152.6 460.4,148.0 460.9,143.9 461.5,139.4 462.1,136.6 462.6,141.5 463.1,143.9 463.6,148.6 464.1,151.2 464.7,145.3 465.3,139.5 465.9,133.7 466.5,130.8 467.0,132.9 467.5,136.6 468.0,140.9 468.5,146.8 469.1,140.8 469.7,136.6 470.3,132.8 470.9,130.8 471.4,136.3 471.9,139.5 472.4,143.5 472.9,149.7 473.5,143.9 474.1,141.0 474.6,139.4 475.2,135.1 475.7,139.0 476.2,142.4 476.7,146.9 477.2,148.3 477.7,144.3 478.2,141.0 478.8,147.4 479.4,151.2 479.9,153.9 480.5,155.6 481.1,151.4 481.6,145.3 482.1,144.6 482.6,142.4 483.2,140.2 483.8,138.0 484.4,133.1 484.9,130.8 485.4,128.8 485.9,128.6 486.4,135.2 487.0,139.5 487.6,145.2 488.1,148.3 488.7,143.8 489.3,136.6 489.8,133.2 490.3,130.8 490.8,135.7 491.3,139.5 491.9,136.1 492.5,130.8 493.1,141.5 493.7,151.2 494.2,155.9 494.7,158.5 495.2,150.5 495.7,142.4 496.3,139.2 496.9,135.1 497.5,140.8 498.1,145.3 498.6,148.2 499.1,152.6 499.6,149.6 500.1,143.9 500.7,143.9 501.3,141.0 501.9,146.2 502.4,154.1 502.9,152.0 503.5,146.8 504.0,143.9 504.5,138.0 505.1,135.6 505.6,132.2 506.2,132.2 506.8,135.1 507.3,144.4 507.8,151.2 508.4,152.2 508.9,155.6 509.4,154.1 510.0,149.7 510.6,152.4 511.2,154.1 511.7,155.6 512.2,159.9 512.7,154.5 513.2,151.2 513.8,145.0 514.4,138.0 515.0,135.3 515.6,132.2 516.1,137.4 516.6,141.0 517.1,147.5 517.6,151.2 518.2,152.5 518.8,155.6 519.4,151.8 520.0,151.2 520.5,148.9 521.0,143.9 521.5,143.8 522.0,146.8 522.6,145.1 523.2,141.0 523.8,138.3 524.3,138.0 524.8,139.7 525.4,139.5 525.9,139.7 526.4,138.0 527.0,143.6 527.5,146.8 527.9,147.7 528.3,148.3" stroke="#ff00f0" stroke-width="4.2"/></g><g clip-path="url(#k3)" fill="none" stroke-linejoin="round"><polyline points="321.2,267.0 321.7,264.1 322.2,261.2 322.8,257.6 323.4,253.9 323.9,250.9 324.5,248.0 325.1,250.2 325.6,252.4 326.1,256.1 326.6,259.7 327.2,256.8 327.8,253.9 328.4,257.6 328.9,261.2 329.4,255.3 329.9,249.5 330.4,248.1 331.0,246.6 331.6,248.8 332.1,251.0 332.7,256.1 333.3,261.2 333.8,253.1 334.3,245.0 334.8,236.5 335.3,228.0 335.9,236.5 336.4,245.0 336.8,253.8 337.2,262.6 337.6,265.6 338.0,268.5 338.6,270.7 339.1,272.9 339.9,273.9 340.6,275.0 341.4,275.4 342.1,275.8 342.8,276.5 343.5,277.2 344.2,276.9 345.0,276.5 345.7,276.1 346.4,275.8 347.1,275.1 347.9,274.3 348.4,272.9 348.9,271.4 349.4,268.5 349.9,265.6 350.4,262.0 350.8,258.3 351.3,253.9 351.8,249.5 352.3,242.8 352.8,236.0 353.2,232.8 353.7,229.5 354.2,236.6 354.7,243.7 355.2,252.4 355.8,261.2 356.4,262.6 356.9,264.1 357.5,261.9 358.1,259.7 358.6,260.4 359.1,261.2 359.6,258.2 360.1,255.3 360.7,247.7 361.3,240.0 361.9,234.0 362.5,228.0 363.0,230.0 363.5,232.0 364.0,236.4 364.5,240.8 365.1,245.2 365.7,249.5 366.3,253.9 366.9,258.3 367.4,260.5 367.9,262.6 368.4,259.0 368.9,255.3 369.5,250.9 370.1,246.6 370.6,243.7 371.2,240.8 371.8,238.6 372.3,236.4 372.8,238.6 373.3,240.8 373.8,243.0 374.2,245.2 374.8,248.8 375.4,252.5 375.9,247.4 376.5,242.3 377.1,232.1 377.6,221.8 378.1,223.3 378.6,224.8 379.2,222.6 379.8,220.4 380.4,219.7 380.9,218.9 381.4,217.9 381.9,217.0 382.4,220.2 383.0,223.3 383.6,225.5 384.1,227.7 384.7,232.8 385.3,237.9 385.8,244.4 386.3,251.0 386.8,252.4 387.3,253.9 387.9,249.6 388.5,245.2 389.1,237.9 389.7,230.6 390.2,229.1 390.7,227.7 391.2,229.8 391.7,232.0 392.3,231.3 392.9,230.6 393.5,228.4 394.1,226.2 394.6,228.4 395.1,230.6 395.6,233.5 396.1,236.4 396.7,235.7 397.3,235.0 397.9,237.2 398.4,239.3 398.9,238.6 399.5,237.9 400.0,239.4 400.5,240.8 401.1,240.1 401.6,239.3 402.2,240.8 402.8,242.3 403.3,240.1 403.8,237.9 404.3,234.9 404.8,232.0 405.4,229.1 406.0,226.2 406.6,222.6 407.2,218.9 407.7,218.2 408.2,217.5 408.7,221.8 409.2,226.2 409.8,230.6 410.4,235.0 411.0,240.1 411.6,245.2 412.1,247.4 412.6,249.6 413.1,248.1 413.6,246.6 414.2,248.1 414.8,249.6 415.4,247.4 415.9,245.2 416.4,242.2 417.0,239.3 417.5,242.2 418.0,245.2 418.6,248.1 419.1,251.0 419.7,250.3 420.3,249.6 420.8,252.5 421.3,255.4 421.9,256.9 422.4,258.3 422.7,253.2 423.0,248.0 423.6,250.9 424.2,253.9 424.7,256.8 425.2,259.7 425.7,256.1 426.2,252.4 426.8,249.5 427.4,246.6 427.9,252.4 428.5,258.3 429.1,262.0 429.6,265.6 430.1,261.2 430.6,256.8 431.2,260.5 431.8,264.1 432.4,259.7 432.9,255.3 433.4,261.9 433.9,268.5 434.4,269.9 435.0,271.4 435.6,269.9 436.1,268.5 436.7,269.2 437.3,269.9 437.8,269.2 438.3,268.5 438.8,269.2 439.3,269.9 439.9,270.6 440.5,271.4 441.1,272.1 441.7,272.9 442.2,273.6 442.7,274.3 443.2,275.1 443.7,275.8 444.3,275.4 444.9,275.0 445.5,275.8 446.1,276.5 446.6,276.1 447.1,275.8 447.6,276.5 448.1,277.2 448.7,276.1 449.3,275.0 449.9,273.9 450.4,272.9 450.9,272.1 451.5,271.4 452.0,270.6 452.5,269.9 453.1,269.2 453.6,268.5 454.2,267.8 454.8,267.0 455.3,267.8 455.8,268.5 456.3,267.1 456.8,265.6 457.4,262.6 458.0,259.7 458.6,254.6 459.2,249.5 459.7,248.1 460.2,246.6 460.7,249.5 461.2,252.4 461.8,256.8 462.4,261.2 463.0,264.1 463.6,267.0 464.1,265.6 464.6,264.1 465.1,261.2 465.6,258.3 466.2,259.8 466.8,261.2 467.4,263.4 467.9,265.6 468.4,267.8 469.0,269.9 469.5,267.8 470.0,265.6 470.6,262.6 471.1,259.7 471.7,259.0 472.3,258.3 472.8,256.1 473.3,253.9 473.9,255.4 474.4,256.8 474.9,259.0 475.5,261.2 475.9,261.2 476.2,261.2 476.7,264.1 477.2,267.0 477.7,268.4 478.2,269.9 478.8,270.6 479.4,271.4 480.1,270.6 480.8,269.9 481.6,269.2 482.3,268.5 483.1,267.8 483.8,267.0 484.4,265.6 484.9,264.1 485.4,260.5 485.9,256.8 486.4,254.6 487.0,252.4 487.6,255.4 488.1,258.3 488.7,259.8 489.3,261.2 489.8,258.3 490.3,255.4 490.8,252.4 491.3,249.5 491.9,248.1 492.5,246.6 493.1,249.5 493.7,252.4 494.2,256.1 494.7,259.7 495.2,257.6 495.7,255.4 496.3,252.4 496.9,249.5 497.5,251.7 498.1,253.9 498.6,256.8 499.1,259.7 499.6,256.8 500.1,253.9 500.7,247.4 501.3,240.8 501.9,235.4 502.4,230.0 502.9,227.5 503.5,225.0 504.0,230.5 504.5,236.0 505.1,244.9 505.6,253.9 506.2,259.0 506.8,264.1 507.3,259.8 507.8,255.4 508.4,251.0 508.9,246.6 509.4,250.2 510.0,253.9 510.6,256.8 511.2,259.7 511.7,257.6 512.2,255.4 512.7,256.9 513.2,258.3 513.8,259.8 514.4,261.2 515.0,257.6 515.6,253.9 516.1,250.2 516.6,246.6 517.1,251.0 517.6,255.4 518.2,260.5 518.8,265.6 519.4,267.8 520.0,269.9 520.5,270.6 521.0,271.4 521.5,268.5 522.0,265.6 522.6,261.2 523.2,256.8 523.8,253.2 524.3,249.5 524.8,248.1 525.4,246.6 525.9,244.4 526.4,242.2 527.0,240.0 527.5,237.8 528.1,233.9 528.7,230.0 529.2,226.0 529.7,222.0 530.2,227.0 530.8,232.0" stroke="#10f010" stroke-width="3.2" stroke-dasharray="7 2.2"/><polyline points="320.5,235.0 321.1,234.4 321.6,232.0 322.1,236.7 322.6,239.3 323.1,240.8 323.7,242.3 324.2,238.6 324.8,236.4 325.4,233.4 326.0,233.5 326.5,236.9 327.0,239.3 327.5,242.2 328.0,245.2 328.6,239.4 329.2,232.0 329.8,229.4 330.4,227.7 330.9,230.7 331.4,232.0 331.9,234.9 332.4,239.3 333.0,244.7 333.6,248.1 334.2,247.4 334.8,245.2 335.3,243.5 335.8,242.3 336.3,240.2 336.8,237.9 337.4,239.2 338.0,239.3 338.6,236.2 339.1,235.0 339.6,233.0 340.2,230.6 340.7,230.1 341.2,227.7 341.8,229.1 342.3,232.0 342.9,230.8 343.5,227.7 344.0,225.3 344.5,221.8 345.1,220.5 345.6,217.0 346.0,219.6 346.4,223.3 346.9,226.3 347.5,232.0 348.0,230.8 348.5,227.7 349.1,230.1 349.6,230.6 350.2,228.2 350.8,226.2 351.3,227.8 351.8,232.0 352.3,228.9 352.8,227.7 353.4,231.8 354.0,235.0 354.6,235.8 355.2,237.9 355.7,236.4 356.2,232.0 356.7,230.1 357.2,227.7 357.8,227.4 358.4,229.1 359.0,234.0 359.6,237.9 360.1,241.1 360.6,245.2 361.1,241.5 361.6,235.0 362.2,239.2 362.8,240.8 363.4,243.0 363.9,245.2 364.4,238.4 365.0,230.6 365.5,229.0 366.0,226.2 366.6,232.3 367.1,236.4 367.7,242.3 368.3,245.2 368.8,244.4 369.3,246.6 369.9,242.5 370.4,239.3 370.9,237.5 371.5,235.0 371.9,235.8 372.2,237.9 372.7,235.2 373.2,232.0 373.7,232.2 374.2,235.0 374.8,234.7 375.4,232.0 375.9,235.0 376.5,237.9 377.1,233.7 377.6,232.0 378.1,233.3 378.6,233.5 379.2,235.8 379.8,239.3 380.4,241.3 380.9,245.2 381.4,240.7 381.9,236.4 382.4,232.3 383.0,230.6 383.6,228.9 384.1,229.1 384.7,233.2 385.3,235.0 385.8,239.3 386.3,242.3 386.8,242.2 387.3,245.2 387.9,242.4 388.5,237.9 389.1,240.7 389.7,246.6 390.2,250.5 390.7,255.4 391.2,258.1 391.7,258.3 392.3,255.0 392.9,251.0 393.5,251.8 394.1,253.9 394.6,251.4 395.1,249.6 395.6,252.9 396.1,256.9 396.7,254.2 397.3,253.9 397.9,254.0 398.4,251.0 398.9,252.5 399.5,256.9 400.0,254.5 400.5,252.5 401.1,250.3 401.6,246.6 402.2,248.5 402.8,251.0 403.3,249.6 403.8,245.2 404.3,242.2 404.8,240.8 405.4,244.5 406.0,245.2 406.6,248.7 407.2,249.6 407.7,247.9 408.2,245.2 408.7,247.9 409.2,248.1 409.8,246.5 410.4,245.2 411.0,244.8 411.6,242.3 412.1,241.7 412.6,239.3 413.1,242.3 413.6,245.2 414.2,240.7 414.8,236.4 415.4,238.5 415.9,239.3 416.4,236.9 417.0,235.0 417.5,236.6 418.0,240.8 418.6,239.4 419.1,236.4 419.7,240.1 420.3,245.2 420.8,240.1 421.3,235.0 421.9,234.4 422.4,232.0 422.9,234.6 423.5,239.3 423.9,238.5 424.2,240.8 424.7,241.0 425.2,243.7 425.7,241.1 426.2,237.9 426.8,236.0 427.4,235.0 427.9,235.7 428.5,237.9 429.1,241.4 429.6,245.2 430.1,242.9 430.6,237.9 431.2,243.0 431.8,249.6 432.4,250.8 432.9,252.5 433.4,244.2 433.9,233.5 434.4,231.7 435.0,229.1 435.6,229.8 436.1,232.0 436.7,230.5 437.3,229.1 437.8,233.4 438.3,237.9 438.8,240.4 439.3,245.2 439.9,245.5 440.5,246.6 441.1,243.8 441.7,242.3 442.2,239.6 442.7,235.0 443.2,232.2 443.7,230.6 444.3,230.4 444.9,229.1 445.5,232.1 446.1,232.0 446.6,236.3 447.1,237.9 447.6,239.0 448.1,240.8 448.7,236.7 449.3,232.0 449.9,234.4 450.4,237.9 450.9,240.5 451.5,243.7 452.0,238.6 452.5,233.5 453.1,230.8 453.6,226.2 454.2,229.8 454.8,230.6 455.3,232.8 455.8,236.4 456.3,230.5 456.8,227.7 457.4,224.6 458.0,221.8 458.6,224.0 459.2,229.1 459.7,232.7 460.2,239.3 460.7,241.7 461.2,242.3 461.8,237.4 462.4,235.0 463.0,232.7 463.6,229.1 464.1,227.2 464.6,226.2 465.1,226.9 465.6,224.8 466.2,231.0 466.8,235.0 467.4,235.7 467.9,239.3 468.4,235.4 469.0,233.5 469.5,238.6 470.0,240.8 470.6,243.4 471.1,245.2 471.7,242.0 472.3,239.3 472.8,238.8 473.3,236.4 473.9,239.6 474.4,240.8 474.9,236.4 475.5,232.0 475.9,232.0 476.2,232.1 476.7,230.1 477.2,230.6 477.7,233.8 478.2,237.9 478.8,239.0 479.4,242.3 479.9,239.8 480.5,236.4 481.1,233.8 481.6,230.6 482.1,230.2 482.6,232.1 483.2,236.2 483.8,239.4 484.4,241.0 484.9,245.2 485.4,241.0 485.9,239.4 486.4,237.7 487.0,235.0 487.6,236.3 488.1,237.9 488.7,238.4 489.3,236.4 489.8,236.1 490.3,235.0 490.8,237.1 491.3,237.9 491.9,236.0 492.5,236.4 493.1,239.0 493.7,239.4 494.2,241.0 494.7,245.2 495.2,243.4 495.7,240.8 496.3,237.8 496.9,232.1 497.5,230.5 498.1,226.2 498.6,229.7 499.1,230.6 499.6,234.1 500.1,237.9 500.7,242.2 501.3,245.2 501.9,243.2 502.4,239.4 502.9,242.6 503.5,248.1 504.0,251.0 504.5,251.0 505.1,248.7 505.6,243.7 506.2,239.2 506.8,235.0 507.3,240.2 507.8,243.7 508.4,247.2 508.9,251.0 509.4,251.7 510.0,253.9 510.6,252.4 511.2,249.6 511.7,244.6 512.2,242.3 512.7,242.5 513.2,240.8 513.8,243.8 514.4,243.7 515.0,240.1 515.6,237.9 516.1,237.1 516.6,233.5 517.1,232.9 517.6,235.0 518.2,237.6 518.8,237.9 519.4,235.0 520.0,233.5 520.5,234.3 521.0,232.1 521.5,231.1 522.0,230.6 522.6,234.2 523.2,235.0 523.8,237.9 524.3,243.7 524.8,246.8 525.4,252.5 525.9,255.0 526.4,255.4 527.0,252.9 527.5,249.6 528.1,246.8 528.7,243.7 529.2,240.8 529.7,240.8 530.2,242.0 530.7,245.2" stroke="#ff00f0" stroke-width="4.2"/></g>
</svg>
</body></html>
